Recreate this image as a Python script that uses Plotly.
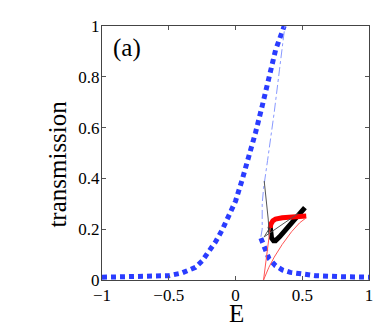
import plotly.graph_objects as go

# blue dotted curve, left branch
blue_left_x = [-1.0, -0.8, -0.6, -0.5, -0.4, -0.3, -0.25, -0.2, -0.15, -0.1, -0.05, 0.0, 0.05, 0.1, 0.15, 0.2, 0.25, 0.3, 0.365]
blue_left_y = [0.011, 0.012, 0.013, 0.017, 0.028, 0.05, 0.075, 0.11, 0.15, 0.197, 0.25, 0.31, 0.395, 0.48, 0.58, 0.685, 0.795, 0.905, 1.0]

# blue dotted curve, right branch
blue_right_x = [0.19, 0.22, 0.25, 0.3, 0.35, 0.41, 0.5, 0.6, 0.8, 1.0]
blue_right_y = [0.165, 0.12, 0.085, 0.056, 0.04, 0.03, 0.022, 0.017, 0.013, 0.011]

# light blue dash-dot curve
dashdot_x = [0.19, 0.2, 0.2, 0.21, 0.24, 0.26, 0.29, 0.33, 0.36, 0.37]
dashdot_y = [0.17, 0.2, 0.3, 0.36, 0.47, 0.54, 0.66, 0.83, 0.97, 1.0]

# thin black curve
thin_black_x = [0.215, 0.23, 0.245, 0.25, 0.215, 0.47]
thin_black_y = [0.39, 0.32, 0.24, 0.2, 0.17, 0.262]

# thick black hook
thick_black_x = [0.26, 0.262, 0.27, 0.285, 0.3, 0.33, 0.38, 0.43, 0.48, 0.52]
thick_black_y = [0.21, 0.185, 0.165, 0.155, 0.155, 0.17, 0.2, 0.23, 0.26, 0.285]

# thick red curve
thick_red_x = [0.26, 0.265, 0.28, 0.3, 0.35, 0.42, 0.48, 0.53]
thick_red_y = [0.205, 0.22, 0.233, 0.24, 0.245, 0.248, 0.25, 0.252]

# thin red curve
thin_red_x = [0.26, 0.235, 0.21, 0.25, 0.29, 0.35, 0.42, 0.48, 0.53]
thin_red_y = [0.205, 0.1, 0.0, 0.05, 0.09, 0.14, 0.19, 0.225, 0.245]

x_ticks = [-1, -0.5, 0, 0.5, 1]
x_tick_text = ["\u22121", "\u22120.5", "0", "0.5", "1"]
y_ticks = [0, 0.2, 0.4, 0.6, 0.8, 1]
y_tick_text = ["0", "0.2", "0.4", "0.6", "0.8", "1"]

serif = "Times New Roman, Liberation Serif, serif"

fig = go.Figure()
fig.add_trace(go.Scatter(x=blue_left_x, y=blue_left_y, mode="lines",
                         line=dict(color="#2a3cff", width=5, dash="5px,4px")))
fig.add_trace(go.Scatter(x=blue_right_x, y=blue_right_y, mode="lines",
                         line=dict(color="#2a3cff", width=5, dash="5px,4px")))
fig.add_trace(go.Scatter(x=dashdot_x, y=dashdot_y, mode="lines",
                         line=dict(color="#8899ff", width=1, dash="dashdot")))
fig.add_trace(go.Scatter(x=thick_black_x, y=thick_black_y, mode="lines",
                         line=dict(color="black", width=5)))
fig.add_trace(go.Scatter(x=thick_red_x, y=thick_red_y, mode="lines",
                         line=dict(color="#ff0000", width=5)))
fig.add_trace(go.Scatter(x=thin_red_x, y=thin_red_y, mode="lines",
                         line=dict(color="#ff5555", width=1)))
fig.add_trace(go.Scatter(x=thin_black_x, y=thin_black_y, mode="lines",
                         line=dict(color="#555555", width=1)))

axis_font = dict(family=serif, size=17, color="black")
fig.update_xaxes(range=[-1, 1], tickvals=x_ticks, ticktext=x_tick_text,
                 ticks="inside", ticklen=4, tickcolor="#555", showline=True,
                 linecolor="#444", mirror="ticks", showgrid=False, zeroline=False,
                 tickfont=axis_font)
fig.update_yaxes(range=[0, 1], tickvals=y_ticks, ticktext=y_tick_text,
                 ticks="inside", ticklen=4, tickcolor="#555", showline=True,
                 linecolor="#444", mirror="ticks", showgrid=False, zeroline=False,
                 tickfont=axis_font, ticklabelstandoff=-2)

fig.add_annotation(text="E", x=0.502, y=-0.132, xref="paper", yref="paper",
                   showarrow=False, xanchor="center", yanchor="middle",
                   font=dict(family=serif, size=25, color="black"))
fig.add_annotation(text="transmission", x=-0.166, y=0.457, xref="paper", yref="paper",
                   showarrow=False, textangle=-90, xanchor="center", yanchor="middle",
                   font=dict(family=serif, size=25, color="black"))
fig.add_annotation(text="(a)", x=0.092, y=0.913, xref="paper", yref="paper",
                   showarrow=False, xanchor="center", yanchor="middle",
                   font=dict(family=serif, size=25, color="black"))

# page body adds 8px offset, so the figure is 8px smaller on each side
fig.update_layout(width=374, height=319, showlegend=False,
                  plot_bgcolor="white", paper_bgcolor="white",
                  margin=dict(l=94, r=9, t=18, b=47))
fig.write_html("out.html")
